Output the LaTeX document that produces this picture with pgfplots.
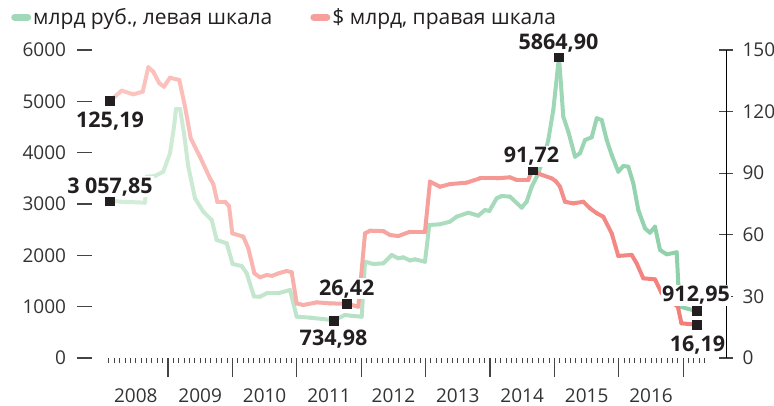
\documentclass[border=0pt]{standalone}
\usepackage{pgfplots}
\pgfplotsset{compat=1.18}
\usepackage{fontspec}
\setmainfont{Open Sans}
\definecolor{tickc}{HTML}{444444}
\definecolor{txt}{HTML}{333333}
\definecolor{lab}{HTML}{231F20}
\definecolor{gleg}{RGB}{160,216,184}
\definecolor{rleg}{RGB}{245,160,156}
\pgfplotsset{
  base/.style={scale only axis, width=641.5bp, height=308bp,
    xmin=-3.56, xmax=115.97, ymin=0,
    at={(84.5bp,48bp)}, anchor=south west, clip=false,
    /pgf/number format/assume math mode=true,
    /pgf/number format/1000 sep={},
    tick label style={font=\fontsize{19bp}{22bp}\selectfont, text=txt}},
}
\begin{document}
\begin{tikzpicture}
% ---------- left axis: bln rubles ----------
\begin{axis}[base, ymax=6000, ytick={0,1000,2000,3000,4000,5000,6000},
  axis x line*=bottom, axis y line*=left, axis line style={draw=none},
  tick align=center, major tick length=14bp,
  ytick style={draw=tickc, line width=1.3bp},
  yticklabel style={xshift=-8bp},
  xtick={6,18,30,42,54,66,78,90,102},
  xticklabels={2008,2009,2010,2011,2012,2013,2014,2015,2016},
  xticklabel style={yshift=-20bp},
  xtick style={draw=none},
  colormap={gm}{rgb255=(214,238,218) rgb255=(140,208,170)},
  point meta min=0, point meta max=112]
\addplot[mesh, point meta=x, line width=4bp, line cap=round, line join=round] table {
x y
1.19 3057.85
3.24 3045
7.71 3026
8.03 3532
9.58 3546
11.12 3630
12.37 3988
13.12 4506
13.49 4851
14.24 4851
14.98 4377
15.78 3727
17.03 3111
18.58 2850
20.14 2688
21.07 2299
22.94 2234
24.05 1831
25.73 1792
26.66 1650
28.02 1200
29.14 1194
30.39 1260
32.50 1260
34.73 1325
35.98 805
38.46 786
42.93 734.98
44.98 838
46.30 820
48.09 805
48.71 1876
50.25 1831
52.12 1844
53.68 2007
54.91 1942
55.84 1961
57.09 1900
58.02 1922
59.88 1876
60.69 2591
62.68 2605
64.54 2656
65.79 2753
67.95 2831
69.82 2773
71.06 2883
71.87 2864
73.24 3111
74.18 3156
75.72 3143
77.90 2929
78.83 3046
79.77 3338
80.70 3532
81.93 3857
82.86 4247
83.79 4831
84.85 5864.9
85.65 4701
86.59 4409
87.84 3922
88.77 3988
89.70 4247
90.95 4300
91.88 4670
92.81 4637
93.74 4247
94.67 3955
95.90 3630
96.83 3741
97.76 3727
98.70 3403
99.63 2883
100.87 2527
101.80 2441
102.74 2558
103.67 2104
104.92 2020
106.78 2059
107.08 1455
107.40 999
110.51 912.95
};
\addplot[only marks, mark=square*, mark size=4.5bp, lab] coordinates {
(1.19,3057.85) (42.93,734.98) (84.85,5864.9) (110.51,912.95)};
\end{axis}
% ---------- right axis: bln dollars ----------
\begin{axis}[base, ymax=150, ytick={0,30,60,90,120,150},
  axis y line*=right, axis x line=none,
  tick align=center, major tick length=14bp,
  ytick style={draw=tickc, line width=1.3bp},
  yticklabel style={xshift=6bp},
  colormap={rm}{rgb255=(252,200,195) rgb255=(241,125,121)},
  point meta min=0, point meta max=112,
  legend image code/.code={\draw[line width=7bp, line cap=round, #1] (3.5bp,0bp) -- (16.5bp,0bp);},
  legend columns=2,
  legend style={at={(-0.1145,1.142)}, anchor=north west, draw=none, fill=none,
    font=\fontsize{21bp}{24bp}\selectfont, text=lab, inner sep=0pt,
    /tikz/every even column/.append style={column sep=36bp}},
  legend cell align=left]
\addlegendimage{color=gleg}
\addlegendentry{млрд руб., левая шкала}
\addlegendimage{color=rleg}
\addlegendentry{\$ млрд, правая шкала}
\addplot[mesh, point meta=x, line width=4bp, line cap=round, line join=round, forget plot] table {
x y
1.19 125.19
3.37 130.2
5.53 128.4
7.29 129.7
8.33 141.6
9.26 139.4
10.38 133.8
11.25 132.1
12.37 136.5
14.10 135.4
15.17 122.4
16.23 107.0
17.96 98.0
19.82 87.5
20.44 84.7
21.19 76.1
22.62 76.1
23.37 74.0
23.98 60.7
26.03 59.1
26.96 53.4
28.10 41.2
29.14 39.3
30.39 40.4
31.38 40.0
32.55 41.2
34.12 42.4
35.05 41.7
35.98 26.6
37.21 25.8
39.71 27.1
42.18 26.6
45.30 26.42
47.46 25.0
48.71 60.7
49.64 62.0
52.12 61.8
53.36 59.9
54.91 59.4
57.09 61.5
59.88 61.5
60.82 85.9
62.68 83.4
64.54 84.7
67.65 85.4
70.13 87.5
73.24 87.5
75.72 88.0
76.97 86.7
79.13 86.7
79.88 91.72
81.31 89.5
83.49 87.5
84.29 86.0
85.04 83.4
85.97 76.1
87.52 75.3
89.38 76.1
90.63 72.9
91.88 70.5
93.11 68.8
94.67 60.7
95.90 49.7
98.40 50.2
99.33 46.1
100.56 38.8
102.74 38.3
103.99 31.5
105.50 28.0
107.00 25.0
107.66 16.9
110.51 16.19
};
\addplot[only marks, mark=square*, mark size=4.5bp, lab, forget plot] coordinates {
(1.19,125.19) (45.30,26.42) (79.88,91.72) (110.51,16.19)};
\end{axis}
% ---------- x ticks and value labels ----------
\begin{axis}[base, ymax=6000,
  axis x line*=bottom, axis y line=none, axis line style={draw=none},
  xtick={12,24,36,48,60,72,84,96,108}, xticklabels={},
  minor xtick={1,...,112},
  tick align=outside, major tick length=19bp, minor tick length=5bp,
  major tick style={draw=tickc, line width=1.3bp},
  minor tick style={draw=tickc, line width=1bp}]
\tikzset{vl/.style={anchor=base, fill=white, inner sep=1bp, text=lab,
  font=\fontsize{21.5bp}{25bp}\selectfont\bfseries}}
\node[vl] at (axis cs:1.19,4481) {125,19};
\node[vl] at (axis cs:1.19,3214) {3 057,85};
\node[vl] at (axis cs:45.3,1227) {26,42};
\node[vl] at (axis cs:42.84,234) {734,98};
\node[vl] at (axis cs:84.76,6010) {5864,90};
\node[vl] at (axis cs:79.73,3799) {91,72};
\node[vl] at (axis cs:110.38,1091) {912,95};
\node[vl] at (axis cs:110.66,117) {16,19};
\end{axis}
\pgfresetboundingbox
\path[use as bounding box] (0,0) rectangle (774bp,406bp);
\end{tikzpicture}
\end{document}
